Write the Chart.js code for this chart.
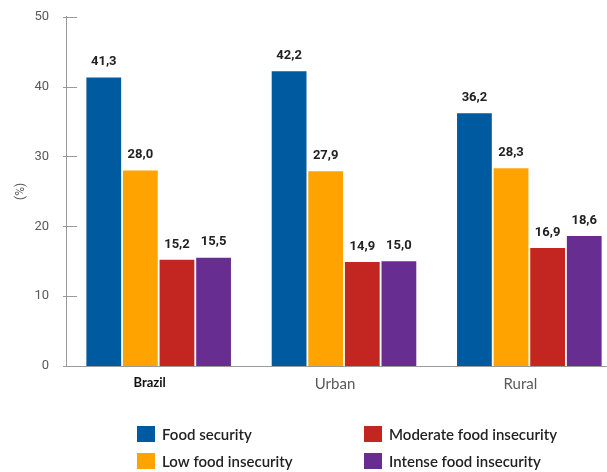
<!DOCTYPE html>
<html>
<head>
<meta charset="utf-8">
<script src="https://cdn.jsdelivr.net/npm/chart.js@4/dist/chart.umd.min.js"></script>
<style>
html, body { margin: 0; padding: 0; overflow: hidden; background: #fff; }
#wrap { width: 622px; height: 480px; position: relative; top: -8px; }
</style>
</head>
<body>
<div id="wrap"><canvas id="chart-food"></canvas></div>
<script>
categories = ['Brazil', 'Urban', 'Rural']

series_names = [
    'Food security',
    'Low food insecurity',
    'Moderate food insecurity',
    'Intense food insecurity'
]

food_security = [41.3, 42.2, 36.2]
low_insecurity = [28.0, 27.9, 28.3]
moderate_insecurity = [15.2, 14.9, 16.9]
intense_insecurity = [15.5, 15.0, 18.6]

y_ticks = [0, 10, 20, 30, 40, 50]

bar_colors = ['rgb(0, 90, 160)', 'rgb(255, 163, 0)', 'rgb(195, 38, 32)', 'rgb(104, 45, 145)']

axis_color = '#9a9a9a'
tick_color = '#5a5a5a'

// values above bars, comma as decimal mark
const valueLabels = {
    id: 'valueLabels',
    afterDatasetsDraw(chart) {
        const ctx = chart.ctx
        ctx.save()
        ctx.font = 'bold 13px Roboto'
        ctx.fillStyle = '#222'
        ctx.textAlign = 'center'
        ctx.textBaseline = 'bottom'
        chart.data.datasets.forEach((ds, i) => {
            chart.getDatasetMeta(i).data.forEach((bar, j) => {
                ctx.fillText(ds.data[j].toFixed(1).replace('.', ','), bar.x, bar.y - 9)
            })
        })
        ctx.restore()
    }
}

// short tick marks pointing into the plot
const innerTicks = {
    id: 'innerTicks',
    afterDraw(chart) {
        const ctx = chart.ctx
        const y = chart.scales.y
        ctx.save()
        ctx.strokeStyle = axis_color
        ctx.lineWidth = 1
        y_ticks.forEach(v => {
            const py = Math.round(y.getPixelForValue(v)) + 0.5
            ctx.beginPath()
            ctx.moveTo(y.right - 3, py)
            ctx.lineTo(y.right + 11, py)
            ctx.stroke()
        })
        ctx.restore()
    }
}

// two-column legend under the chart (canvas is shifted up 8px)
const gridLegend = {
    id: 'gridLegend',
    afterDraw(chart) {
        const ctx = chart.ctx
        const cols = [137, 364]
        const rows = [434, 461]
        ctx.save()
        ctx.font = '600 15px Lato'
        ctx.textBaseline = 'middle'
        ctx.textAlign = 'left'
        series_names.forEach((name, i) => {
            const x = cols[Math.floor(i / 2)]
            const y = rows[i % 2]
            ctx.fillStyle = bar_colors[i]
            ctx.fillRect(x, y, 18, 16)
            ctx.fillStyle = '#222'
            ctx.fillText(name, x + 25, y + 9)
        })
        ctx.restore()
    }
}

const all_series = [food_security, low_insecurity, moderate_insecurity, intense_insecurity]

food_chart = new Chart(
    document.getElementById('chart-food').getContext('2d'), {
        type: 'bar',
        data: {
            labels: categories,
            datasets: all_series.map((values, i) => ({
                label: series_names[i],
                data: values,
                backgroundColor: bar_colors[i],
                categoryPercentage: 0.79,
                barPercentage: 0.95
            }))
        },
        options: {
            responsive: true,
            maintainAspectRatio: false,
            animation: false,
            layout: {
                padding: { top: 0, right: 0, bottom: 70, left: 14 }
            },
            plugins: {
                legend: { display: false },
                tooltip: { enabled: false }
            },
            scales: {
                x: {
                    grid: { display: false, drawTicks: false },
                    border: { display: true, color: axis_color },
                    ticks: {
                        padding: 9,
                        labelOffset: -9,
                        color: ctx => ctx.index === 0 ? '#111' : tick_color,
                        font: ctx => ctx.index === 0
                            ? { family: 'Lato', size: 13, weight: 'bold' }
                            : { family: 'Lato', size: 15 }
                    }
                },
                y: {
                    min: 0,
                    max: 50,
                    afterFit: s => { s.width = 52 },
                    grid: { display: false, drawTicks: false },
                    border: { display: true, color: axis_color },
                    ticks: {
                        stepSize: 10,
                        padding: 17,
                        color: tick_color,
                        font: { family: 'Roboto', size: 13 }
                    },
                    title: {
                        display: true,
                        text: '(%)',
                        color: tick_color,
                        font: { family: 'Roboto', size: 12 },
                        padding: { top: 0, bottom: 4 }
                    }
                }
            }
        },
        plugins: [valueLabels, innerTicks, gridLegend]
    })
</script>
</body>
</html>
